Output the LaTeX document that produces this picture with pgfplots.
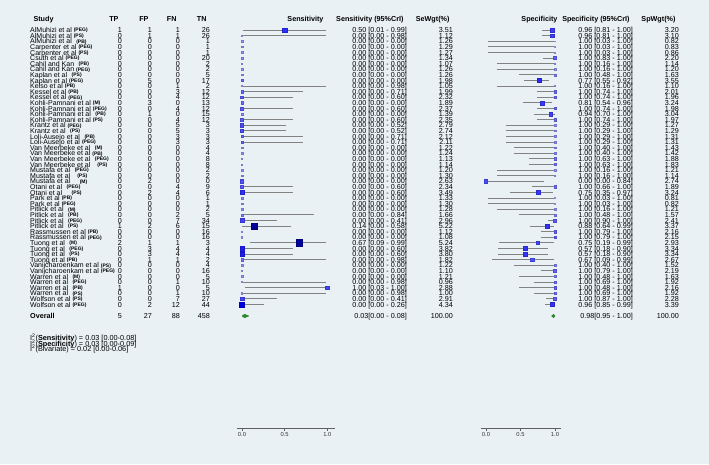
\documentclass[border=0pt]{standalone}
\usepackage{fontspec}
\setmainfont{Liberation Sans}
\usepackage{graphicx}
\usepackage{pgfplots}
\usepackage{pgfplotstable}
\pgfplotsset{compat=1.18}
\definecolor{bgc}{RGB}{234,241,244}
\definecolor{cigray}{RGB}{130,130,130}
\definecolor{axgray}{RGB}{95,95,95}
\definecolor{dgreen}{RGB}{40,150,40}
\newcommand\nmfont{\fontsize{7}{7}\selectfont}
\newcommand\htfont{\fontsize{7.3}{7}\selectfont}
\newcommand\numfont{\fontsize{7.2}{8}\selectfont}
\newcommand\hdfont{\fontsize{7.2}{8}\selectfont\bfseries}
\newcommand\sufont{\fontsize{5}{5}\selectfont\bfseries}

\pgfplotstableread{
r est lo hi w
1 0.50 0.01 0.99 3.51
2 0.00 0.00 0.98 1.12
3 0.00 0.00 0.00 1.26
4 0.00 0.00 0.00 1.29
5 0.00 0.00 0.00 1.27
6 0.00 0.00 0.00 1.34
7 0.00 0.00 0.00 1.07
8 0.00 0.00 0.00 1.26
9 0.00 0.00 0.00 1.26
10 0.00 0.00 0.00 1.98
11 0.00 0.00 0.98 1.05
12 0.00 0.00 0.71 1.99
13 0.00 0.00 0.60 2.32
14 0.00 0.00 0.00 1.89
15 0.00 0.00 0.60 2.37
16 0.00 0.00 0.00 1.39
17 0.00 0.00 0.60 2.35
18 0.00 0.00 0.52 2.79
19 0.00 0.00 0.52 2.74
20 0.00 0.00 0.71 2.12
21 0.00 0.00 0.71 2.11
22 0.00 0.00 0.00 1.22
23 0.00 0.00 0.00 1.24
24 0.00 0.00 0.00 1.13
25 0.00 0.00 0.00 1.14
26 0.00 0.00 0.00 1.20
27 0.00 0.00 0.00 1.30
28 0.00 0.00 0.00 2.63
29 0.00 0.00 0.60 2.34
30 0.00 0.00 0.60 3.49
31 0.00 0.00 0.00 1.33
32 0.00 0.00 0.00 1.30
33 0.00 0.00 0.00 1.28
34 0.00 0.00 0.84 1.66
35 0.00 0.00 0.41 2.96
36 0.14 0.00 0.58 5.22
37 0.00 0.00 0.00 1.12
38 0.00 0.00 0.00 1.08
39 0.67 0.09 0.99 5.24
40 0.00 0.00 0.60 3.82
41 0.00 0.00 0.60 3.80
42 0.00 0.00 0.98 1.82
43 0.00 0.00 0.00 1.22
44 0.00 0.00 0.00 1.10
45 0.00 0.00 0.00 1.21
46 0.00 0.00 0.98 0.96
47 1.00 0.03 1.00 2.88
48 0.00 0.00 0.98 1.00
49 0.00 0.00 0.41 2.91
50 0.00 0.00 0.26 4.34
}\sens

\pgfplotstableread{
r est lo hi w
1 0.96 0.81 1.00 3.20
2 0.96 0.81 1.00 3.10
3 1.00 0.03 1.00 0.82
4 1.00 0.03 1.00 0.83
5 1.00 0.03 1.00 0.86
6 1.00 0.83 1.00 2.20
7 1.00 0.16 1.00 1.14
8 1.00 0.16 1.00 1.20
9 1.00 0.48 1.00 1.63
10 0.77 0.55 0.92 3.55
11 1.00 0.16 1.00 1.10
12 1.00 0.74 1.00 2.01
13 1.00 0.74 1.00 1.96
14 0.81 0.54 0.96 3.24
15 1.00 0.74 1.00 1.98
16 0.94 0.70 1.00 3.04
17 1.00 0.74 1.00 1.97
18 1.00 0.29 1.00 1.27
19 1.00 0.29 1.00 1.29
20 1.00 0.29 1.00 1.31
21 1.00 0.29 1.00 1.31
22 1.00 0.40 1.00 1.43
23 1.00 0.40 1.00 1.42
24 1.00 0.63 1.00 1.88
25 1.00 0.63 1.00 1.83
26 1.00 0.16 1.00 1.21
27 1.00 0.16 1.00 1.14
28 0.00 0.00 0.84 2.74
29 1.00 0.66 1.00 1.89
30 0.75 0.35 0.97 3.24
31 1.00 0.03 1.00 0.81
32 1.00 0.03 1.00 0.82
33 1.00 0.16 1.00 1.21
34 1.00 0.48 1.00 1.57
35 1.00 0.90 1.00 2.41
36 0.88 0.64 0.99 3.37
37 1.00 0.79 1.00 2.16
38 1.00 0.79 1.00 2.15
39 0.75 0.19 0.99 2.93
40 0.57 0.18 0.90 3.34
41 0.57 0.18 0.90 3.34
42 0.67 0.09 0.99 2.67
43 1.00 0.40 1.00 1.52
44 1.00 0.79 1.00 2.19
45 1.00 0.48 1.00 1.63
46 1.00 0.69 1.00 1.92
47 1.00 0.48 1.00 2.16
48 1.00 0.69 1.00 1.92
49 1.00 0.87 1.00 2.28
50 0.96 0.85 0.99 3.39
}\spec

\pgfplotsset{
  forest/.style={
    scale only axis, height=408pt, ymin=-72.07, ymax=0.786, clip=false,
    axis x line*=bottom, axis y line=none,
    xtick={0,0.5,1}, xticklabels={0.0,0.5,1.0},
    tick align=outside, major tick length=3pt,
    x axis line style={draw=axgray, line width=0.8pt},
    every tick/.style={draw=axgray, line width=0.6pt},
    xticklabel style={font=\fontsize{5.8}{6}\selectfont, text=black!80, inner sep=1.5pt},
    colormap={bluew}{rgb255(0cm)=(175,175,255) rgb255(1.2cm)=(105,105,255) rgb255(2.7cm)=(45,45,255) rgb255(3.5cm)=(0,0,235) rgb255(4.5cm)=(0,0,150)},
    point meta min=0.8, point meta max=5.3,
  },
  cibars/.style={draw=none, mark=none, forget plot,
    error bars/.cd, x dir=both, x explicit, error mark=none,
    error bar style={draw=cigray, line width=0.9pt, solid}},
  boxes/.style={scatter, only marks, mark=square*, point meta=\thisrow{w},
    visualization depends on={0.6*\thisrow{w} \as \msz},
    scatter/@pre marker code/.append style={/tikz/mark size=\msz}},
}

\begin{document}
\begin{tikzpicture}
\fill[bgc] (0,0) rectangle (709pt,-464pt);

% headers
\node[anchor=mid west, font=\hdfont] at (30pt,-19pt) {Study};
\node[anchor=mid east, font=\hdfont] at (122pt,-19pt) {TP};
\node[anchor=mid east, font=\hdfont] at (152pt,-19pt) {FP};
\node[anchor=mid east, font=\hdfont] at (180pt,-19pt) {FN};
\node[anchor=mid east, font=\hdfont] at (210pt,-19pt) {TN};
\node[anchor=mid east, font=\hdfont] at (327pt,-19pt) {Sensitivity};
\node[anchor=mid east, font=\hdfont] at (407pt,-19pt) {Sensitivity (95\%CrI)};
\node[anchor=mid east, font=\hdfont] at (453pt,-19pt) {SeWgt(\%)};
\node[anchor=mid east, font=\hdfont] at (561pt,-19pt) {Specificity};
\node[anchor=mid east, font=\hdfont] at (633pt,-19pt) {Specificity (95\%CrI)};
\node[anchor=mid east, font=\hdfont] at (679pt,-19pt) {SpWgt(\%)};

\foreach \nm/\sfx/\gp/\cTP/\cFP/\cFN/\cTN/\setx/\sew/\sptx/\spw [count=\k] in {
AlMuhizi et al/PEG/2/1/1/1/26/0.50 [0.01 - 0.99]/3.51/0.96 [0.81 - 1.00]/3.20,
AlMuhizi et al/PS/2/0/1/1/26/0.00 [0.00 - 0.98]/1.12/0.96 [0.81 - 1.00]/3.10,
AlMuhizi et al/PB/4.5/0/0/0/1/0.00 [0.00 - 0.00]/1.26/1.00 [0.03 - 1.00]/0.82,
Carpenter et al/PEG/2/0/0/0/1/0.00 [0.00 - 0.00]/1.29/1.00 [0.03 - 1.00]/0.83,
Carpenter et al/PS/2/0/0/0/1/0.00 [0.00 - 0.00]/1.27/1.00 [0.03 - 1.00]/0.86,
Csuth et al/PEG/2/0/0/0/20/0.00 [0.00 - 0.00]/1.34/1.00 [0.83 - 1.00]/2.20,
Cahil and Kan/PB/4.5/0/0/0/2/0.00 [0.00 - 0.00]/1.07/1.00 [0.16 - 1.00]/1.14,
Cahil and Kan/PEG/2/0/0/0/2/0.00 [0.00 - 0.00]/1.26/1.00 [0.16 - 1.00]/1.20,
Kaplan et al/PS/4.5/0/0/0/5/0.00 [0.00 - 0.00]/1.26/1.00 [0.48 - 1.00]/1.63,
Kaplan et al/PEG/2/0/5/0/17/0.00 [0.00 - 0.00]/1.98/0.77 [0.55 - 0.92]/3.55,
Kelso et al/PB/2/0/0/1/2/0.00 [0.00 - 0.98]/1.05/1.00 [0.16 - 1.00]/1.10,
Kessel et al/PB/2/0/0/3/12/0.00 [0.00 - 0.71]/1.99/1.00 [0.74 - 1.00]/2.01,
Kessel et al/PEG/2/0/0/4/12/0.00 [0.00 - 0.60]/2.32/1.00 [0.74 - 1.00]/1.96,
Kohli-Pamnani et al/M/2/0/3/0/13/0.00 [0.00 - 0.00]/1.89/0.81 [0.54 - 0.96]/3.24,
Kohli-Pamnani et al/PEG/2/0/0/4/12/0.00 [0.00 - 0.60]/2.37/1.00 [0.74 - 1.00]/1.98,
Kohli-Pamnani et al/PB/4.5/0/1/0/15/0.00 [0.00 - 0.00]/1.39/0.94 [0.70 - 1.00]/3.04,
Kohli-Pamnani et al/PS/2/0/0/4/12/0.00 [0.00 - 0.60]/2.35/1.00 [0.74 - 1.00]/1.97,
Krantz et al/PEG/2/0/0/5/3/0.00 [0.00 - 0.52]/2.79/1.00 [0.29 - 1.00]/1.27,
Krantz et al/PS/4.5/0/0/5/3/0.00 [0.00 - 0.52]/2.74/1.00 [0.29 - 1.00]/1.29,
Loli-Ausejo et al/PB/4.5/0/0/3/3/0.00 [0.00 - 0.71]/2.12/1.00 [0.29 - 1.00]/1.31,
Loli-Ausejo et al/PEG/2/0/0/3/3/0.00 [0.00 - 0.71]/2.11/1.00 [0.29 - 1.00]/1.31,
Van Meerbeke et al/M/4.5/0/0/0/4/0.00 [0.00 - 0.00]/1.22/1.00 [0.40 - 1.00]/1.43,
Van Meerbeke et al/PB/2/0/0/0/4/0.00 [0.00 - 0.00]/1.24/1.00 [0.40 - 1.00]/1.42,
Van Meerbeke et al/PEG/4.5/0/0/0/8/0.00 [0.00 - 0.00]/1.13/1.00 [0.63 - 1.00]/1.88,
Van Meerbeke et al/PS/7/0/0/0/8/0.00 [0.00 - 0.00]/1.14/1.00 [0.63 - 1.00]/1.83,
Mustafa et al/PEG/4.5/0/0/0/2/0.00 [0.00 - 0.00]/1.20/1.00 [0.16 - 1.00]/1.21,
Mustafa et al/PS/7/0/0/0/2/0.00 [0.00 - 0.00]/1.30/1.00 [0.16 - 1.00]/1.14,
Mustafa et al/M/9.5/0/2/0/0/0.00 [0.00 - 0.00]/2.63/0.00 [0.00 - 0.84]/2.74,
Otani et al/PEG/4.5/0/0/4/9/0.00 [0.00 - 0.60]/2.34/1.00 [0.66 - 1.00]/1.89,
Otani et al/PS/9.5/0/2/4/6/0.00 [0.00 - 0.60]/3.49/0.75 [0.35 - 0.97]/3.24,
Park et al/PB/2/0/0/0/1/0.00 [0.00 - 0.00]/1.33/1.00 [0.03 - 1.00]/0.81,
Park et al/PEG/2/0/0/0/1/0.00 [0.00 - 0.00]/1.30/1.00 [0.03 - 1.00]/0.82,
Pitlick et al/M/4.5/0/0/0/2/0.00 [0.00 - 0.00]/1.28/1.00 [0.16 - 1.00]/1.21,
Pitlick et al/PB/4.5/0/0/2/5/0.00 [0.00 - 0.84]/1.66/1.00 [0.48 - 1.00]/1.57,
Pitlick et al/PEG/4.5/0/0/7/34/0.00 [0.00 - 0.41]/2.96/1.00 [0.90 - 1.00]/2.41,
Pitlick et al/PS/4.5/1/2/6/15/0.14 [0.00 - 0.58]/5.22/0.88 [0.64 - 0.99]/3.37,
Rassmussen et al/PB/2/0/0/0/16/0.00 [0.00 - 0.00]/1.12/1.00 [0.79 - 1.00]/2.16,
Rassmussen et al/PEG/2/0/0/0/16/0.00 [0.00 - 0.00]/1.08/1.00 [0.79 - 1.00]/2.15,
Tuong et al/M/4.5/2/1/1/3/0.67 [0.09 - 0.99]/5.24/0.75 [0.19 - 0.99]/2.93,
Tuong et al/PEG/4.5/0/3/4/4/0.00 [0.00 - 0.60]/3.82/0.57 [0.18 - 0.90]/3.34,
Tuong et al/PS/4.5/0/3/4/4/0.00 [0.00 - 0.60]/3.80/0.57 [0.18 - 0.90]/3.34,
Tuong et al/PB/2/0/1/1/2/0.00 [0.00 - 0.98]/1.82/0.67 [0.09 - 0.99]/2.67,
Vanijcharoenkam et al/PS/2/0/0/0/4/0.00 [0.00 - 0.00]/1.22/1.00 [0.40 - 1.00]/1.52,
Vanijcharoenkam et al/PEG/2/0/0/0/16/0.00 [0.00 - 0.00]/1.10/1.00 [0.79 - 1.00]/2.19,
Warren et al/M/4.5/0/0/0/5/0.00 [0.00 - 0.00]/1.21/1.00 [0.48 - 1.00]/1.63,
Warren et al/PEG/4.5/0/0/1/10/0.00 [0.00 - 0.98]/0.96/1.00 [0.69 - 1.00]/1.92,
Warren et al/PB/4.5/1/0/0/5/1.00 [0.03 - 1.00]/2.88/1.00 [0.48 - 1.00]/2.16,
Warren et al/PS/4.5/0/0/1/10/0.00 [0.00 - 0.98]/1.00/1.00 [0.69 - 1.00]/1.92,
Wolfson et al/PS/2/0/0/7/27/0.00 [0.00 - 0.41]/2.91/1.00 [0.87 - 1.00]/2.28,
Wolfson et al/PEG/2/0/2/12/44/0.00 [0.00 - 0.26]/4.34/0.96 [0.85 - 0.99]/3.39}{
  \pgfmathsetmacro\yy{-(30+(\k-1)*5.6)}
  \node[anchor=mid west, font=\nmfont, inner sep=0pt] at (30pt,\yy pt) {\nm\hspace{\gp pt}\raisebox{0.7pt}{\sufont(\sfx)}};
  \node[anchor=mid east, font=\numfont, inner sep=0pt] at (122pt,\yy pt) {\cTP};
  \node[anchor=mid east, font=\numfont, inner sep=0pt] at (152pt,\yy pt) {\cFP};
  \node[anchor=mid east, font=\numfont, inner sep=0pt] at (180pt,\yy pt) {\cFN};
  \node[anchor=mid east, font=\numfont, inner sep=0pt] at (210pt,\yy pt) {\cTN};
  \node[anchor=mid east, font=\numfont, inner sep=0pt] at (407pt,\yy pt) {\setx};
  \node[anchor=mid east, font=\numfont, inner sep=0pt] at (453pt,\yy pt) {\sew};
  \node[anchor=mid east, font=\numfont, inner sep=0pt] at (633pt,\yy pt) {\sptx};
  \node[anchor=mid east, font=\numfont, inner sep=0pt] at (679pt,\yy pt) {\spw};
}

% overall row
\node[anchor=mid west, font=\hdfont, inner sep=0pt] at (30pt,-316pt) {Overall};
\node[anchor=mid east, font=\numfont, inner sep=0pt] at (122pt,-316pt) {5};
\node[anchor=mid east, font=\numfont, inner sep=0pt] at (152pt,-316pt) {27};
\node[anchor=mid east, font=\numfont, inner sep=0pt] at (180pt,-316pt) {88};
\node[anchor=mid east, font=\numfont, inner sep=0pt] at (210pt,-316pt) {458};
\node[anchor=mid east, font=\numfont, inner sep=0pt] at (407pt,-316pt) {0.03[0.00 - 0.08]};
\node[anchor=mid east, font=\numfont, inner sep=0pt] at (453pt,-316pt) {100.00};
\node[anchor=mid east, font=\numfont, inner sep=0pt] at (633pt,-316pt) {0.98[0.95 - 1.00]};
\node[anchor=mid east, font=\numfont, inner sep=0pt] at (679pt,-316pt) {100.00};

% heterogeneity
\node[anchor=mid west, font=\htfont, inner sep=0pt] at (30pt,-338pt) {I\textsuperscript{2}(\textbf{Sensitivity}) = 0.03 [0.00-0.08]};
\node[anchor=mid west, font=\htfont, inner sep=0pt] at (30pt,-343.5pt) {I\textsuperscript{2}(\textbf{Specificity}) = 0.03 [0.00-0.09]};
\node[anchor=mid west, font=\htfont, inner sep=0pt] at (30pt,-349pt) {I\textsuperscript{2}(Bivariate) = 0.02 [0.00-0.06]};

% sensitivity panel
\begin{axis}[forest, at={(237pt,-428pt)}, anchor=south west, width=98pt,
  xmin=-0.0586, xmax=1.0903]
\addplot[cibars] table[x=est, y expr=-\thisrow{r},
  x error plus expr=\thisrow{hi}-\thisrow{est},
  x error minus expr=\thisrow{est}-\thisrow{lo}] {\sens};
\addplot[boxes] table[x=est, y expr=-\thisrow{r}] {\sens};
\addplot[fill=dgreen, draw=dgreen!70!black, line width=0.3pt] coordinates {(0.00,-52.07) (0.03,-51.75) (0.08,-52.07) (0.03,-52.39)} -- cycle;
\end{axis}

% specificity panel
\begin{axis}[forest, at={(480.5pt,-428pt)}, anchor=south west, width=80.5pt,
  xmin=-0.0797, xmax=1.087]
\addplot[cibars] table[x=est, y expr=-\thisrow{r},
  x error plus expr=\thisrow{hi}-\thisrow{est},
  x error minus expr=\thisrow{est}-\thisrow{lo}] {\spec};
\addplot[boxes] table[x=est, y expr=-\thisrow{r}] {\spec};
\addplot[fill=dgreen, draw=dgreen!70!black, line width=0.3pt] coordinates {(0.95,-52.07) (0.98,-51.75) (1.00,-52.07) (0.98,-52.39)} -- cycle;
\end{axis}

\pgfresetboundingbox
\useasboundingbox (0,0) rectangle (709pt,-464pt);
\end{tikzpicture}
\end{document}
